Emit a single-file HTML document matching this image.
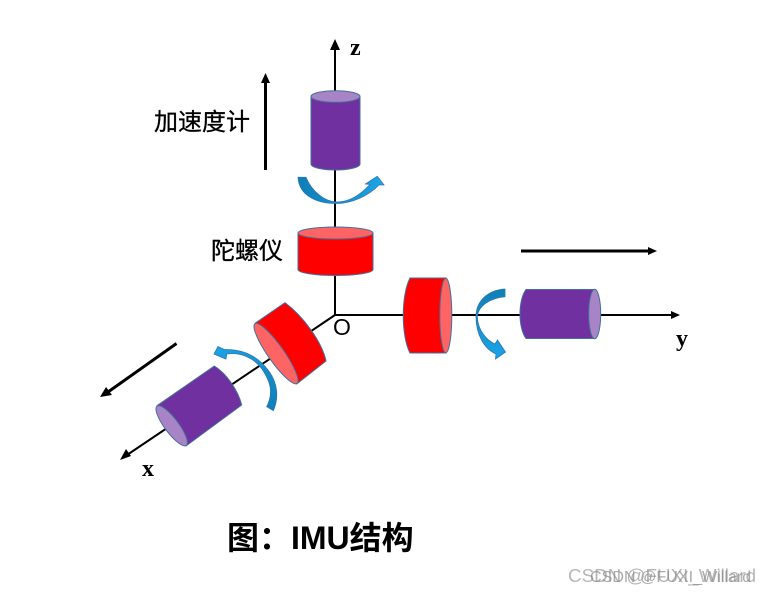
<!DOCTYPE html>
<html>
<head>
<meta charset="utf-8">
<style>
html,body{margin:0;padding:0;background:#fff;}
svg{display:block;}
.cjk{font-family:"Liberation Sans","Noto Sans CJK SC",sans-serif;}
.ser{font-family:"Liberation Serif",serif;font-weight:bold;}
</style>
</head>
<body>
<svg width="768" height="595" viewBox="0 0 768 595" xmlns="http://www.w3.org/2000/svg">
<defs>
<linearGradient id="bz" x1="0" y1="0" x2="1" y2="0"><stop offset="0" stop-color="#0f7fb5"/><stop offset="1" stop-color="#1ca4e6"/></linearGradient>
<linearGradient id="by" x1="0" y1="0" x2="0" y2="1"><stop offset="0" stop-color="#0f7fb5"/><stop offset="1" stop-color="#1ca4e6"/></linearGradient>
<linearGradient id="bx" x1="1" y1="1" x2="0" y2="0"><stop offset="0" stop-color="#0f7fb5"/><stop offset="1" stop-color="#1ca4e6"/></linearGradient>
</defs>
<rect width="768" height="595" fill="#fff"/>

<!-- axes -->
<g stroke="#000" stroke-width="2" fill="none">
<line x1="335" y1="315" x2="335" y2="48"/>
<line x1="335" y1="315" x2="672" y2="315"/>
<line x1="335" y1="315" x2="127" y2="455"/>
</g>
<polygon points="335,39 340,50 330,50" fill="#000"/>
<polygon points="680,315 671,311 671,319" fill="#000"/>
<polygon points="120,460 131,456 126,449" fill="#000"/>

<!-- thick arrows -->
<line x1="265.500" y1="170" x2="265.500" y2="82" stroke="#000" stroke-width="3"/>
<polygon points="265.500,73 270,83 261,83" fill="#000"/>
<line x1="521" y1="251" x2="650" y2="251" stroke="#000" stroke-width="3"/>
<polygon points="657,251 648,247 648,255" fill="#000"/>
<line x1="176.500" y1="343.500" x2="108" y2="392" stroke="#000" stroke-width="3"/>
<polygon points="100,397 106,387 112,395" fill="#000"/>

<!-- z cylinders -->
<path d="M311,97 V164 A24.500,6 0 0 0 360,164 V97 Z" fill="#7030a0" stroke="#41719c" stroke-width="1"/>
<ellipse cx="335.500" cy="96.500" rx="24.500" ry="5.800" fill="#a884c6" stroke="#41719c" stroke-width="1"/>
<path d="M298,233 V269.500 A37.500,6 0 0 0 373,269.500 V233 Z" fill="#ff0000" stroke="#41719c" stroke-width="1"/>
<ellipse cx="335.500" cy="233" rx="37.500" ry="6" fill="#ff6464" stroke="#41719c" stroke-width="1"/>

<!-- y cylinders -->
<path d="M446,278 H410 C401,295 401,336 410,353 H446 Z" fill="#ff0000" stroke="#41719c" stroke-width="1"/>
<ellipse cx="445.800" cy="315.500" rx="6" ry="37.200" fill="#ff6464" stroke="#41719c" stroke-width="1"/>
<path d="M595,289.500 H526 C518,300 518,328 526,338.500 H595 Z" fill="#7030a0" stroke="#41719c" stroke-width="1"/>
<ellipse cx="594.700" cy="314" rx="6" ry="24.700" fill="#a884c6" stroke="#41719c" stroke-width="1"/>

<!-- x cylinders -->
<path d="M255,323.300 L285,302.700 C303,316 322,342 326,361 L296.700,384 Z" fill="#ff0000" stroke="#41719c" stroke-width="1" stroke-linejoin="round"/>
<ellipse cx="276" cy="353.600" rx="36.500" ry="8" transform="rotate(54.900 276 353.600)" fill="#ff6464" stroke="#41719c" stroke-width="1"/>
<path d="M157,405.700 L214.300,366 C226,373 238,390 241.700,405 L186,446 Z" fill="#7030a0" stroke="#41719c" stroke-width="1" stroke-linejoin="round"/>
<ellipse cx="171.700" cy="425.800" rx="24.500" ry="7" transform="rotate(53.300 171.700 425.800)" fill="#a884c6" stroke="#41719c" stroke-width="1"/>

<!-- blue rotation arrows -->
<path d="M298,177.300 H306 C312,192 325,201.500 336,202 C350,202 360,195 370,184.500 L365.500,184 L377.300,176.300 L384,185 L379,185 C368,196 352,203.500 336,203.500 C316,203.500 299,195 298,177.300 Z" fill="url(#bz)" stroke="#2e75b6" stroke-width="0.800"/>
<path d="M505,289 V296.700 C490,298 478,306 477.300,317 C478,330 486,340 495,344 L497.500,340 L505.500,352 L495.500,359 L496,354 C484,349 476,334 476,316.700 C476,301 488,290 505,289 Z" fill="url(#by)" stroke="#2e75b6" stroke-width="0.800"/>
<path d="M266.700,406.700 L273.300,410.700 C279,398 278,383 268,370 C259,358 246,349 224.300,349.500 L218,346.500 L214,354 L226,359 L226.700,354 C241,352 254,358 262,369 C270,381 274,392 266.700,406.700 Z" fill="url(#bx)" stroke="#2e75b6" stroke-width="0.800"/>

<!-- labels -->
<text x="350" y="55" class="ser" font-size="24" fill="#000">z</text>
<text x="676" y="346" class="ser" font-size="24" fill="#000">y</text>
<text x="142" y="476" class="ser" font-size="24" fill="#000">x</text>
<text x="333" y="335" font-family="Liberation Sans, sans-serif" font-size="23" fill="#000">O</text>
<text x="154" y="130" class="cjk" font-size="24" fill="#000" stroke="#000" stroke-width="0.300">加速度计</text>
<text x="211" y="259" class="cjk" font-size="24" fill="#000" stroke="#000" stroke-width="0.300">陀螺仪</text>
<text x="227" y="549" class="cjk" font-size="32" font-weight="bold" fill="#000">图：IMU结构</text>

<!-- watermark -->
<text x="568" y="582" class="cjk" font-size="18.800" fill="#999" opacity="0.7">CSDN @FUXI_Willard</text>
<text x="590" y="582" class="cjk" font-size="16.100" fill="#888" opacity="0.7">CSDN @FUXI_Willard</text>
</svg>
</body>
</html>
